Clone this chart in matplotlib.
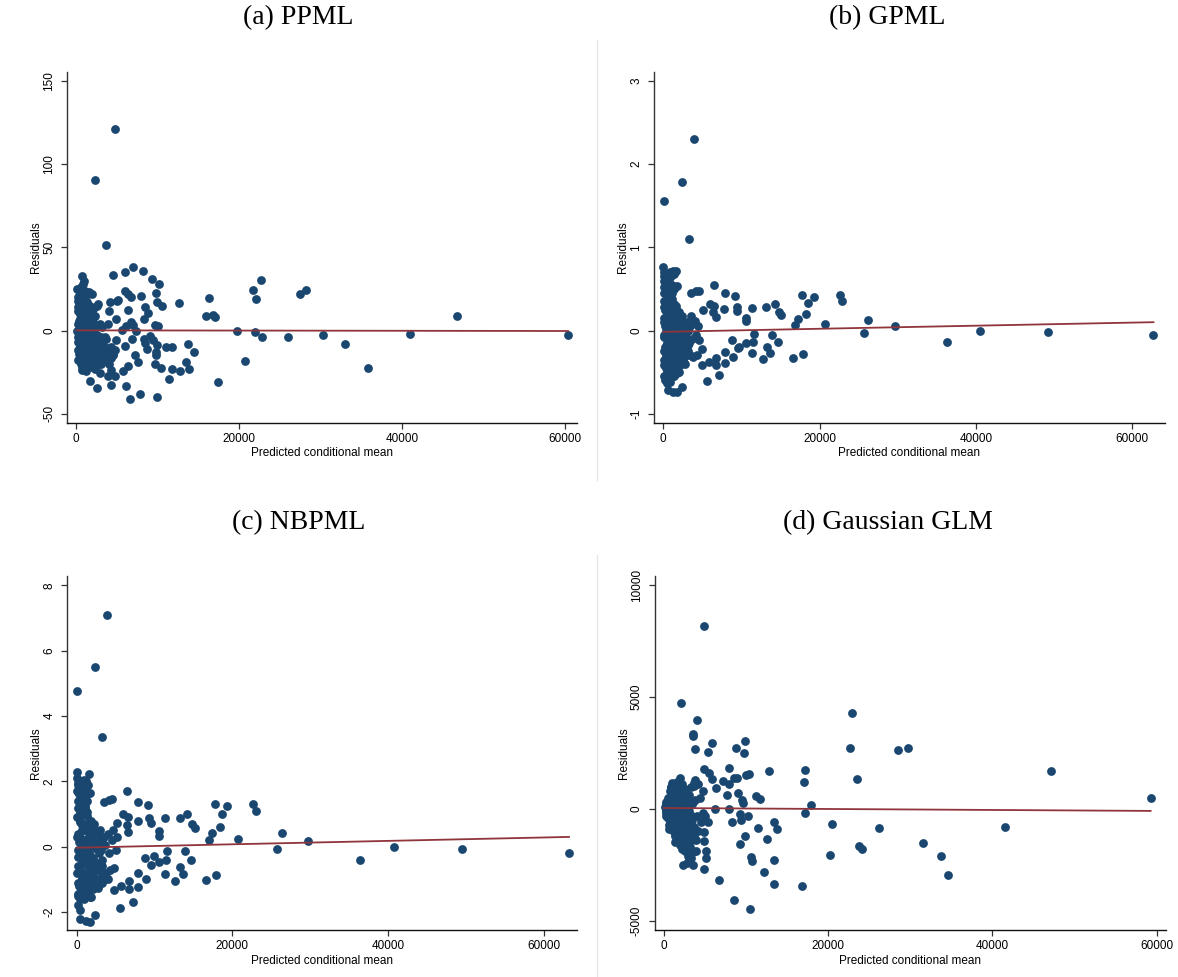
"""
Residuals vs predicted conditional mean for four estimators (PPML, GPML, NBPML, Gaussian GLM).
"""
import matplotlib
matplotlib.use("Agg")
import matplotlib.pyplot as plt
from matplotlib.lines import Line2D

# ---- data (x = predicted conditional mean, y = residual) ----
ppml_x = [4700, 2350, 3670, 4460, 700, 6020, 6950, 8130, 9260, 10100, 9730, 5970, 6340, 6720, 7990,
          5170, 5030, 4090, 9870, 10570, 12590, 8460, 3990, 6340, 8830, 8360, 4840, 3900, 6720, 6910,
          9630, 10000, 6110, 5640, 7280, 19740, 21990, 22840, 25940, 30310, 33040, 40980, 46760, 60390,
          35810, 20720, 17340, 16260, 15880, 16820, 17010, 21710, 22040, 22700, 27440, 28240, 13770,
          14470, 11000, 11800, 9870, 8690, 8460, 9400, 9070, 8320, 6810, 5920, 4890, 3520, 7190, 7520,
          6390, 5730, 6060, 4320, 2490, 1690, 1130, 750, 2910, 4280, 4700, 3950, 6630, 7800, 9920,
          11370, 11800, 12780, 13440, 13860, 9630, 10340, 9730, 9770, 4560, 4230, 3760, 2730,
          100, 300, 500, 800, 1100, 1400, 200, 500, 900, 1200, 1600, 1900, 2100, 2500, 2700, 300, 600,
          900, 1300, 1700, 2100, 2500, 2900, 100, 400, 700, 1000, 1400, 1800, 2200, 200, 500, 800,
          1100, 1500, 1900, 2300, 2700, 3100, 300, 600, 900, 1300, 1700, 2100, 2500, 2900, 3300, 3700,
          4100, 4500, 600, 1000, 1400, 1900, 3000, 3500, 4000, 400, 700, 1000, 1500, 1800, 2300, 3200,
          3600, 600, 1000, 250, 1300, 1600, 2000, 2600, 3000, 3500, 3800, 4300, 4800, 700, 2300,
          150, 150, 150, 150, 150, 150, 450, 450, 450, 450, 450, 450, 750, 750, 750, 750, 750, 750,
          1050, 1050, 1050, 1050, 1050, 1050, 1350, 1350, 1350, 1350, 1350, 1650, 1650, 1650, 1650,
          1650, 1950, 1950, 1950, 1950, 1950, 2250, 2250, 2250, 2250, 2600, 2600, 2600, 3000, 3000]
ppml_y = [121, 90.2, 51.7, 33.5, 32.7, 34.9, 37.9, 35.7, 30.9, 28.1, 22.6, 23.8, 22.2, 20.2, 20.6,
          18.6, 17.6, 17.2, 17.2, 14.6, 16.6, 14.2, 11.8, 12.6, 10.8, 7.0, 7.0, 4.2, 5.2, 3.2,
          3.6, 2.8, 2.8, 0.6, -0.4, -0.2, -0.8, -3.8, -4.2, -2.8, -8.2, -1.8, 9.0, -3.0,
          -22.6, -18.4, -30.9, 19.8, 8.6, 9.2, 8.2, 24.4, 18.8, 30.1, 22.2, 24.4, -8.4,
          -13.2, -10.2, -10.2, -8.6, -11.2, -7.4, -5.8, -3.4, -5.2, -5.4, -9.2, -5.8, -4.2, -14.8, -19.0,
          -21.2, -24.2, -33.1, -32.9, -34.5, -30.3, -24.4, -20.2, -25.5, -23.8, -27.3, -27.3, -41.1, -38.1, -40.1,
          -29.3, -23.0, -24.4, -19.2, -23.2, -20.4, -22.8, -14.8, -13.0, -14.8, -16.8, -11.8, -20.2,
          25, 21, 18, 28, 24, 22, 14, 11, 13, 16, 23, 22, 13, 15, 16, 6, 4,
          8, 6, 3, 5, 3, 4, 0, -2, 1, -3, 0, -2, -1, -7, -10, -5,
          -9, -12, -8, -11, -6, -9, -14, -16, -13, -15, -17, -14, -16, -13, -15, -12,
          -15, -14, -20, -19, -21, -19, -18, -17, -20, 10, 16, 9, 10, 12, 9, 2,
          -5, 26, 30, 18, -6, -4, -6, -12, -4, -10, -16, -10, -12, -24, -23,
          20, 12, 4, -4, -12, -18, 23, 15, 7, -1, -9, -17, 19, 10, 2, -7, -15, -22,
          21, 13, 5, -3, -11, -19, 17, 8, 0, -8, -16, 15, 6, -2, -10,
          -18, 9, 1, -7, -15, -22, 3, -5, -13, -19, -3, -10, -17, -12, -20]

gpml_x = [3940, 2420, 95, 3270, 0, 1570, 1760, 6500, 3560, 4130, 4600, 7830, 9110, 17740, 19260,
          22630, 22870, 18550, 14230, 13140, 11290, 5930, 6500, 7730, 9390, 9490, 5080, 14800, 15090,
          18220, 17220, 10580, 10580, 6400, 6690, 26190, 20640, 16890, 29600, 40510, 49190, 62710,
          25660, 36240, 13900, 11570, 14710, 13240, 13710, 12710, 16560, 17840, 11340, 11430, 10580,
          9720, 9530, 8770, 8870, 7830, 7920, 6740, 6690, 7160, 5550, 5790, 4890, 4980, 2420, 1760,
          1190, 570, 240, 520, 1760, 2700, 2420, 3650,
          50, 150, 300, 450, 600, 800, 1000, 1200, 1400, 100, 250, 400, 700, 900, 1100, 150, 350, 550,
          800, 1000, 1300, 1600, 2000, 2400, 50, 300, 600, 900, 1200, 1500, 1800, 2200, 2600, 3000,
          3500, 4000, 100, 400, 700, 1000, 1300, 1700, 2100, 2500, 2900, 3300, 3700, 4200, 4600, 200,
          500, 800, 1100, 1500, 1900, 2300, 2800, 3200, 3800, 4300, 100, 400, 700, 1000, 1300, 1700,
          2100, 2500, 300, 600, 900, 1200, 1600, 200, 700, 1100, 500, 850, 2800, 3100, 250, 3400, 4500,
          150, 150, 150, 150, 150, 150, 150, 150, 450, 450, 450, 450, 450, 450, 450,
          750, 750, 750, 750, 750, 750, 750, 750, 1050, 1050, 1050, 1050, 1050, 1050, 1050,
          1350, 1350, 1350, 1350, 1350, 1350, 1350, 1650, 1650, 1650, 1650, 1650,
          1950, 1950, 1950, 1950, 1950, 2300, 2300, 2300, 2300, 2700, 2700, 2700, 3100, 3100]
gpml_y = [2.307, 1.782, 1.562, 1.097, 0.765, 0.717, 0.537, 0.553, 0.445, 0.473, 0.48, 0.449, 0.409,
          0.425, 0.405, 0.425, 0.356, 0.328, 0.316, 0.284, 0.276, 0.32, 0.292, 0.26, 0.284, 0.236,
          0.248, 0.22, 0.188, 0.196, 0.144, 0.156, 0.112, 0.224, 0.164, 0.132, 0.076, 0.064, 0.06,
          0.0, -0.016, -0.056, -0.024, -0.136, -0.048, -0.044, -0.136, -0.196, -0.268, -0.344, -0.328,
          -0.28, -0.272, -0.144, -0.148, -0.196, -0.216, -0.116, -0.32, -0.26, -0.388, -0.328, -0.416,
          -0.54, -0.609, -0.384, -0.416, -0.22, -0.677, -0.737, -0.737, -0.717, -0.597, -0.629, -0.505,
          -0.388, -0.196, -0.304,
          0.7, 0.65, 0.6, 0.68, 0.62, 0.7, 0.66, 0.72, 0.68, 0.52, 0.45, 0.5, 0.42, 0.4, 0.45, 0.35,
          0.3, 0.28, 0.35, 0.25, 0.2, 0.26, 0.22, 0.18, 0.15, 0.1, 0.15, 0.05, 0.1, 0.03, 0.12, 0.05,
          0.08, 0.1, 0.18, 0.12, -0.05, 0.0, -0.08, -0.02, -0.1, -0.05, -0.12, -0.02, -0.08, -0.15,
          -0.1, -0.05, -0.12, -0.2, -0.15, -0.25, -0.18, -0.22, -0.28, -0.2, -0.3, -0.25, -0.32, -0.3,
          -0.35, -0.3, -0.4, -0.35, -0.45, -0.38, -0.42, -0.35, -0.45, -0.52, -0.5, -0.55, -0.48, 0.25,
          0.2, 0.32, -0.6, -0.62, -0.4, -0.3, 0.05, 0.05, 0.05,
          0.6, 0.45, 0.28, 0.1, -0.08, -0.25, -0.42, -0.55, 0.55, 0.38, 0.2, 0.02, -0.16, -0.34, -0.5,
          0.62, 0.48, 0.3, 0.12, -0.06, -0.24, -0.45, -0.58, 0.55, 0.38, 0.2, 0.02, -0.14, -0.3, -0.46,
          0.5, 0.32, 0.14, -0.04, -0.2, -0.38, -0.55, 0.3, 0.12, -0.06, -0.24, -0.4,
          0.2, 0.04, -0.14, -0.32, -0.5, 0.12, -0.04, -0.2, -0.36, 0.06, -0.1, -0.26, 0.0, -0.18]

nbpml_x = [3930, 2410, 50, 3250, 0, 1570, 1770, 6490, 3540, 4180, 4570, 7820, 9150, 17810, 19330,
           22680, 22970, 18640, 14220, 13230, 11310, 5900, 6540, 7870, 9350, 9590, 5160, 14760, 15150,
           18350, 17360, 10570, 10620, 6440, 6640, 26320, 20660, 16970, 29710, 40680, 49530, 63200,
           25680, 36400, 13920, 11610, 14710, 13280, 13720, 12640, 16580, 17900, 11360, 11510, 10570,
           9890, 9490, 8760, 8850, 7870, 7920, 6740, 6690, 7180, 5510, 5710, 4820, 4820, 2410, 1770,
           1230, 490, 150, 490, 1770, 2710, 2460, 3690,
           50, 200, 400, 600, 900, 1200, 1500, 100, 300, 600, 900, 1300, 200, 500, 800, 1100, 1400,
           1800, 2200, 100, 400, 700, 1000, 1300, 1600, 2000, 2500, 3000, 3500, 4000, 4500, 50, 300,
           600, 900, 1200, 1500, 1900, 2300, 2700, 3100, 3600, 4100, 200, 500, 800, 1100, 1400, 1700,
           2100, 2500, 2900, 3300, 3800, 4300, 100, 400, 700, 1000, 1300, 1600, 2000, 2400, 2800, 3200,
           300, 600, 900, 1200, 1500, 1800, 200, 700, 1000, 4000, 5000, 4700, 5200,
           150, 150, 150, 150, 150, 150, 150, 150, 450, 450, 450, 450, 450, 450, 450, 450,
           750, 750, 750, 750, 750, 750, 750, 750, 1050, 1050, 1050, 1050, 1050, 1050, 1050,
           1350, 1350, 1350, 1350, 1350, 1350, 1350, 1700, 1700, 1700, 1700, 1700,
           2100, 2100, 2100, 2100, 2100, 2500, 2500, 2500, 2500, 2900, 2900, 2900, 2900, 3300, 3300, 3300]
nbpml_y = [7.106, 5.49, 4.78, 3.37, 2.30, 2.22, 1.66, 1.72, 1.37, 1.44, 1.45, 1.38, 1.28, 1.31, 1.25,
           1.30, 1.08, 1.01, 0.99, 0.87, 0.87, 0.99, 0.91, 0.80, 0.89, 0.72, 0.74, 0.69, 0.58, 0.60,
           0.42, 0.48, 0.33, 0.65, 0.44, 0.41, 0.24, 0.21, 0.19, -0.02, -0.06, -0.19, -0.07, -0.42,
           -0.14, -0.13, -0.40, -0.61, -0.84, -1.06, -1.02, -0.88, -0.84, -0.42, -0.47, -0.28, -0.57,
           -0.34, -1.00, -0.81, -1.22, -1.04, -1.30, -1.70, -1.87, -1.19, -1.31, -0.66, -2.09, -2.29,
           -2.28, -2.21, -1.79, -1.93, -1.54, -1.20, -0.69, -1.00,
           2.1, 1.95, 2.0, 1.85, 2.05, 2.0, 1.9, 1.7, 1.6, 1.55, 1.7, 1.4, 1.2, 1.05, 1.1, 1.25, 0.95,
           0.8, 0.7, 0.9, 0.75, 0.65, 0.5, 0.6, 0.4, 0.55, 0.45, 0.5, 0.3, 0.4, 0.2, 0.3, 0.15,
           0.25, 0.0, 0.1, -0.1, 0.05, -0.05, 0.15, -0.1, 0.05, -0.2, -0.3, -0.2, -0.45, -0.35, -0.55, -0.4,
           -0.6, -0.5, -0.7, -0.6, -0.8, -0.7, -0.8, -0.7, -0.95, -0.85, -1.1, -0.95, -1.15, -1.05, -1.25, -1.1,
           -1.2, -1.35, -1.25, -1.5, -1.4, -1.55, -1.5, -1.55, -1.6, -1.0, -0.1, 0.5, 0.3,
           1.9, 1.4, 0.9, 0.4, -0.1, -0.6, -1.1, -1.45, 1.8, 1.3, 0.8, 0.3, -0.2, -0.7, -1.2, -1.6,
           2.0, 1.5, 1.0, 0.5, 0.0, -0.5, -1.0, -1.45, 1.75, 1.2, 0.7, 0.2, -0.3, -0.8, -1.3,
           1.6, 1.05, 0.55, 0.05, -0.45, -0.95, -1.4, 0.7, 0.25, -0.25, -0.75, -1.2,
           0.6, 0.15, -0.35, -0.85, -1.3, 0.4, -0.05, -0.55, -1.0, 0.3, -0.2, -0.7, -1.15, 0.1, -0.4, -0.9]

glm_x = [4910, 2090, 4050, 3550, 3550, 5820, 9910, 3770, 5360, 8820, 9730, 22950, 22680, 28550, 29680,
         47140, 59270, 12770, 17140, 17000, 23550, 17950, 17230, 7860, 8860, 9950, 10410, 8550, 4820,
         5500, 5820, 6360, 7140, 7860, 9050, 7730, 11230, 11730, 9550, 9640, 7860, 6270, 9230, 10270,
         9360, 8230, 5360, 11500, 13410, 13820, 12550, 9860, 9230, 10640, 10680, 13450, 12180, 13410,
         16770, 20410, 20180, 23730, 24140, 26140, 31500, 33730, 34550, 41550, 6680, 8550, 10450,
         4910, 5140, 5140, 4910, 4860, 3590, 3000, 3590, 3860, 3090, 3600, 3700, 3770,
         100, 200, 300, 300, 400, 500, 500, 600, 700, 700, 800, 800, 900, 900, 1000, 1000, 1100, 1100,
         1200, 1200, 1300, 1300, 1400, 1400, 1500, 1500, 1600, 1600, 1700, 1700, 1800, 1800, 1900,
         1900, 2000, 2000, 2100, 2100, 2200, 2200, 2300, 2400, 2400, 2500, 2500, 2600, 2700, 2700,
         2800, 2900, 3000, 3000, 3100, 3200, 3300, 3300, 3400, 3500, 3600, 3700, 3800, 3900, 4000,
         4100, 4200, 4400, 4500, 4700, 4800, 5000, 2300, 2800, 600, 1300, 1500, 800, 1000,
         300, 300, 300, 600, 600, 600, 600, 600, 900, 900, 900, 900, 900,
         1200, 1200, 1200, 1200, 1200, 1200, 1200, 1500, 1500, 1500, 1500, 1500, 1500, 1500,
         1800, 1800, 1800, 1800, 1800, 1800, 1800, 1800, 2100, 2100, 2100, 2100, 2100, 2100, 2100, 2100,
         2400, 2400, 2400, 2400, 2400, 2400, 2400, 2400, 2700, 2700, 2700, 2700, 2700, 2700, 2700,
         3000, 3000, 3000, 3000, 3000, 3000, 3400, 3400, 3400, 3400]
glm_y = [8197, 4722, 3970, 3353, 3248, 2963, 3053, 2662, 2527, 2707, 2512, 4272, 2737, 2632, 2737,
         1685, 466, 1700, 1745, 1188, 1354, 180, -180, 1850, 1384, 1534, 1549, 1399, 1775,
         1625, 1354, 933, 1249, 1128, 722, 602, 587, 451, 376, 286, 0, 0, -226, -301,
         -496, -587, -572, -857, -602, -918, -1339, -1203, -1579, -2136, -2331, -2286, -2842, -3354,
         -3459, -662, -2060, -1670, -1805, -872, -1549, -2106, -2978, -812, -3173, -4075, -4496,
         -2677, -2196, -1880, -1023, -1444, -2527, -2331, -1941, -1384, -752, 1023, 1150, 376,
         100, -100, 300, -300, 0, 500, -400, 200, 800, -600, -200, 400, 1000, -800, 600, -500, 100,
         1100, -1000, 800, -300, 300, 1000, -1200, 600, -700, -100, 1200, -1400, 400, 900, -900, 1400,
         -1600, 200, -500, 700, -1200, -1800, 1100, -200, 500, -1500, -900, 900, -1900, 200, -600,
         -1300, -2100, 600, -300, -1000, -1700, 1000, -2200, -500, 300, -1200, -800, 1300, -1900, -300,
         1100, -1000, 500, -600, -200, 800, -300, -2500, -2400, -900, -1500, 1100, 1000, 1150,
         200, 0, -200, 500, 200, -100, -400, -700, 800, 450, 100, -250, -600,
         1000, 650, 300, -50, -400, -750, -1050, 950, 600, 250, -100, -450, -800, -1150,
         1000, 650, 300, -50, -400, -750, -1100, -1400, 900, 550, 200, -150, -500, -850, -1200, -1550,
         700, 350, 0, -350, -700, -1050, -1400, -1700, 500, 150, -200, -550, -900, -1250, -1600,
         300, -100, -500, -900, -1300, -1800, 200, -300, -800, -1400]

# fitted line end points
ppml_fit_x, ppml_fit_y = [0, 60390], [0.1, -0.3]
gpml_fit_x, gpml_fit_y = [0, 62710], [-0.016, 0.10]
nbpml_fit_x, nbpml_fit_y = [0, 63200], [-0.03, 0.30]
glm_fit_x, glm_fit_y = [0, 59270], [40, -90]

titles = ["(a) PPML", "(b) GPML", "(c) NBPML", "(d) Gaussian GLM"]
x_ticks = [0, 20000, 40000, 60000]

NAVY = "#1a476f"
MAROON = "#90353b"
W, H = 1178, 977

plt.rcParams["font.family"] = ["Liberation Sans", "DejaVu Sans"]

fig = plt.figure(figsize=(W / 100, H / 100), dpi=100)
fig.patch.set_facecolor("white")


def px_axes(left, top, right, bottom):
    return fig.add_axes([left / W, 1 - bottom / H, (right - left) / W, (bottom - top) / H])


panels = [
    # (box in px, xlim, ylim, yticks, data)
    ((67, 72, 577, 423), (-1142, 61473), (-55.6, 155.4), [-50, 0, 50, 100, 150],
     ppml_x, ppml_y, ppml_fit_x, ppml_fit_y),
    ((654.3, 72, 1164.7, 423), (-1151, 64145), (-1.112, 3.108), [-1, 0, 1, 2, 3],
     gpml_x, gpml_y, gpml_fit_x, gpml_fit_y),
    ((67, 576, 577, 930), (-1230, 64230), (-2.55, 8.29), [-2, 0, 2, 4, 6, 8],
     nbpml_x, nbpml_y, nbpml_fit_x, nbpml_fit_y),
    ((654.7, 576, 1166, 930), (-1133, 61145), (-5421, 10425), [-5000, 0, 5000, 10000],
     glm_x, glm_y, glm_fit_x, glm_fit_y),
]

title_pos = [(298.5, 18), (887.5, 18), (298.5, 523), (887.5, 523)]

for i, (box, xl, yl, yt, xs, ys, fx, fy) in enumerate(panels):
    ax = px_axes(*box)
    ax.scatter(xs, ys, s=40, color=NAVY, linewidths=0, zorder=2)
    ax.plot(fx, fy, color=MAROON, lw=1.3, zorder=3)
    ax.set_xlim(*xl)
    ax.set_ylim(*yl)
    ax.set_xticks(x_ticks)
    ax.set_xticklabels([str(t) for t in x_ticks])
    ax.set_yticks(yt)
    ax.set_yticklabels([str(t) for t in yt], rotation=90, va="center")
    for side in ["top", "right"]:
        ax.spines[side].set_visible(False)
    ax.spines["left"].set_color("#333333")
    ax.spines["left"].set_linewidth(1.0)
    ax.spines["bottom"].set_color("#111111")
    ax.spines["bottom"].set_linewidth(1.0)
    ax.tick_params(axis="both", labelsize=8.5, length=4.5, width=0.9, color="#333333")
    ax.tick_params(axis="x", pad=2.5)
    ax.tick_params(axis="y", pad=4)
    ax.set_xlabel("Predicted conditional mean", fontsize=8.5, labelpad=2)
    ax.set_ylabel("Residuals", fontsize=8.5, labelpad=1)

    tx, ty = title_pos[i]
    fig.text(tx / W, 1 - ty / H, titles[i], ha="center", va="center",
             fontsize=20, family=["Liberation Serif", "DejaVu Serif"])

# faint divider between left and right graphs
fig.add_artist(Line2D([597 / W, 597 / W], [1 - 40 / H, 1 - 480 / H], color="#e6e6e6", lw=1))
fig.add_artist(Line2D([597 / W, 597 / W], [1 - 555 / H, 0], color="#e6e6e6", lw=1))

fig.savefig("out.png", dpi=100)
